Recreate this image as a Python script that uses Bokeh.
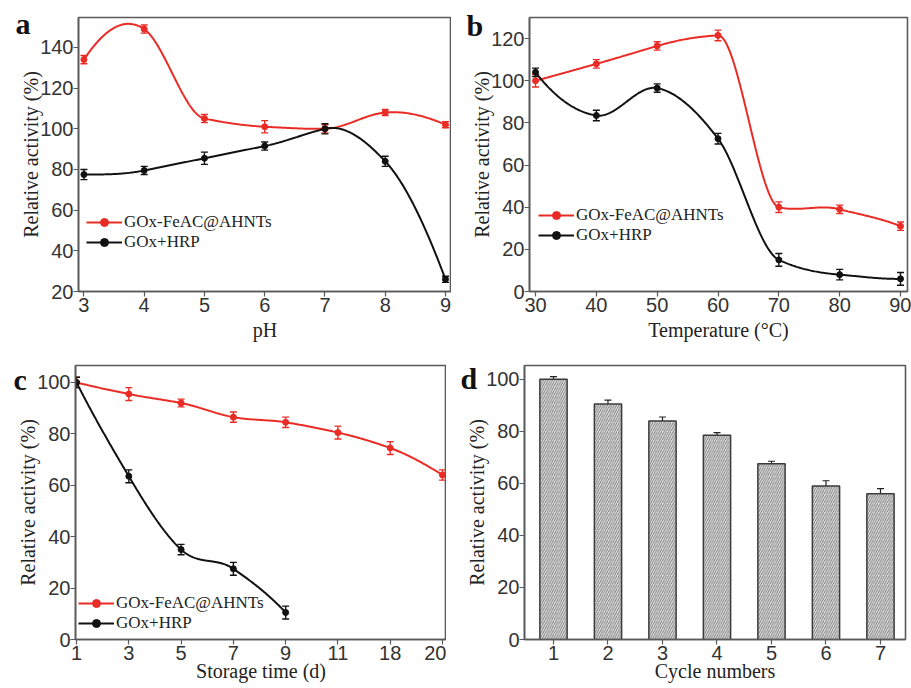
import numpy as np
from bokeh.plotting import figure
from bokeh.models import (ColumnDataSource, Whisker, TeeHead, Label, Legend,
                          LegendItem, FixedTicker, Range1d)
from bokeh.layouts import column, row
from bokeh.embed import file_html
from bokeh.resources import INLINE

# ---------------- data ----------------
ph = [3, 4, 5, 6, 7, 8, 9]
ph_fe = [134, 149, 105, 101, 100, 108, 102]
ph_fe_err = [2, 2, 2, 3, 2, 1.5, 1.5]
ph_hrp = [77.5, 79.5, 85.5, 91.5, 100, 84, 26]
ph_hrp_err = [2.5, 2, 3, 2, 2.5, 2.5, 1.5]

temp = [30, 40, 50, 60, 70, 80, 90]
temp_fe = [100, 108, 116.5, 121.5, 40, 39, 31]
temp_fe_err = [3, 2, 2, 2.5, 2.5, 2, 2]
temp_hrp = [104, 83.5, 96.5, 72.5, 15, 8, 6]
temp_hrp_err = [2, 2.5, 2, 2.5, 3, 2.5, 3]

store_labels = ["1", "3", "5", "7", "9", "11", "18", "20"]
store_fe = [100, 95.5, 92, 86.5, 84.5, 80.5, 74.5, 64]
store_fe_err = [2, 2.5, 1.5, 2, 2, 2.5, 2.5, 2]
store_hrp = [100, 63.5, 35, 27.5, 10.5]
store_hrp_err = [2, 2.5, 2, 2.5, 2.5]

cycles = [1, 2, 3, 4, 5, 6, 7]
cycle_act = [100, 90.5, 84, 78.5, 67.5, 59, 56]
cycle_err = [1, 1.5, 1.5, 1, 1, 2, 2]

RED = "#ea2c26"
BLK = "#111111"
LBL_FE = "GOx-FeAC@AHNTs"
LBL_HRP = "GOx+HRP"


def akima(x, y, n=300):
    x = np.asarray(x, float)
    y = np.asarray(y, float)
    N = len(x)
    d = np.diff(y) / np.diff(x)
    dm1 = 2 * d[0] - d[1]
    dm2 = 2 * dm1 - d[0]
    dn = 2 * d[-1] - d[-2]
    dn1 = 2 * dn - d[-1]
    M = np.concatenate([[dm2, dm1], d, [dn, dn1]])
    t = np.zeros(N)
    for i in range(N):
        w1 = abs(M[i + 3] - M[i + 2])
        w2 = abs(M[i + 1] - M[i])
        if w1 + w2 == 0:
            t[i] = 0.5 * (M[i + 1] + M[i + 2])
        else:
            t[i] = (w1 * M[i + 1] + w2 * M[i + 2]) / (w1 + w2)
    xs = np.linspace(x[0], x[-1], n)
    idx = np.clip(np.searchsorted(x, xs, side="right") - 1, 0, N - 2)
    h = x[idx + 1] - x[idx]
    s = (xs - x[idx]) / h
    h00 = 2 * s**3 - 3 * s**2 + 1
    h10 = s**3 - 2 * s**2 + s
    h01 = -2 * s**3 + 3 * s**2
    h11 = s**3 - s**2
    ys = h00 * y[idx] + h10 * h * t[idx] + h01 * y[idx + 1] + h11 * h * t[idx + 1]
    return xs, ys


def make_fig(w, h, xr, yr, bl, br, bt, bb, xlabel, xticks, yticks, ystand, xstand):
    p = figure(width=w, height=h, x_range=Range1d(*xr), y_range=Range1d(*yr),
               output_backend="svg", toolbar_location=None,
               min_border_left=bl, min_border_right=br,
               min_border_top=bt, min_border_bottom=bb)
    p.xgrid.visible = False
    p.ygrid.visible = False
    p.outline_line_color = "#5a5a5a"
    p.outline_line_width = 1.6
    p.background_fill_color = "white"
    p.border_fill_color = "white"
    for ax in (p.xaxis[0], p.yaxis[0]):
        ax.axis_line_color = "#5a5a5a"
        ax.axis_line_width = 1.6
        ax.major_tick_line_color = "#5a5a5a"
        ax.major_tick_line_width = 1.2
        ax.major_tick_out = 5
        ax.major_tick_in = 0
        ax.minor_tick_line_color = None
        ax.major_label_text_font = "Liberation Sans"
        ax.major_label_text_font_size = "20px"
        ax.major_label_text_color = "#333333"
        ax.axis_label_text_font = "Liberation Serif"
        ax.axis_label_text_font_size = "20px"
        ax.axis_label_text_font_style = "normal"
        ax.axis_label_text_color = "#222222"
    p.xaxis.axis_label = xlabel
    p.yaxis.axis_label = "Relative activity (%)"
    p.xaxis.ticker = FixedTicker(ticks=xticks)
    p.yaxis.ticker = FixedTicker(ticks=yticks)
    p.xaxis.major_label_standoff = 1
    p.yaxis.major_label_standoff = 0
    p.xaxis.axis_label_standoff = xstand
    p.yaxis.axis_label_standoff = ystand
    return p


def letter(p, txt, x, y, dx, dy):
    # placed in the left side panel so it is not clipped to the plot frame
    p.add_layout(Label(x=x, y=y, x_offset=dx, y_offset=dy, text=txt,
                       text_font="Liberation Serif", text_font_style="bold",
                       text_font_size="30px", text_color="#111111",
                       text_baseline="alphabetic"), "left")


def add_series(p, x, y, err, color):
    xs, ys = akima(x, y)
    ln = p.line(xs, ys, line_color=color, line_width=2)
    src = ColumnDataSource(dict(x=x, y=y, up=[a + b for a, b in zip(y, err)],
                                lo=[a - b for a, b in zip(y, err)]))
    p.add_layout(Whisker(base="x", upper="up", lower="lo", source=src,
                         line_color=color, line_width=1.4,
                         upper_head=TeeHead(size=7, line_color=color, line_width=1.4),
                         lower_head=TeeHead(size=7, line_color=color, line_width=1.4)))
    sc = p.scatter("x", "y", source=src, size=6, fill_color=color, line_color=color)
    return ln, sc


def add_legend(p, r_fe, r_hrp, loc):
    lg = Legend(items=[LegendItem(label=LBL_FE, renderers=list(r_fe)),
                       LegendItem(label=LBL_HRP, renderers=list(r_hrp))],
                location=loc, glyph_width=36, glyph_height=20, spacing=0,
                padding=0, margin=0, label_standoff=2,
                label_text_font="Liberation Serif", label_text_font_size="17px",
                label_text_color="#222222", background_fill_alpha=0,
                border_line_alpha=0, label_height=20)
    p.add_layout(lg, "center")


# ---------------- panel a ----------------
pa = make_fig(451, 350, (2.91, 9.1), (20, 154.7), 78, 0, 17, 58, "pH",
              ph, [20, 40, 60, 80, 100, 120, 140], -5, 4)
ra = add_series(pa, ph, ph_fe, ph_fe_err, RED)
rb = add_series(pa, ph, ph_hrp, ph_hrp_err, BLK)
add_legend(pa, ra, rb, (8, 39))
letter(pa, "a", 2.91, 154.7, -63, -6)

# ---------------- panel b ----------------
pb = make_fig(460, 350, (29.01, 91.15), (0, 130), 78, 4, 15, 59, "Temperature (\u00b0C)",
              temp, [0, 20, 40, 60, 80, 100, 120], -5, 4)
ra = add_series(pb, temp, temp_fe, temp_fe_err, RED)
rb = add_series(pb, temp, temp_hrp, temp_hrp_err, BLK)
add_legend(pb, ra, rb, (9, 46))
letter(pb, "b", 29.01, 130, -63, -8)

# ---------------- panel c ----------------
idx_fe = list(range(len(store_fe)))
idx_hrp = list(range(len(store_hrp)))
pc = make_fig(446, 338, (-0.02, 7.077), (0, 106.6), 75, 0, 15, 49, "Storage time (d)",
              list(range(len(store_labels))), [0, 20, 40, 60, 80, 100], -5, -3)
pc.xaxis.major_label_overrides = {i: s for i, s in enumerate(store_labels)}
ra = add_series(pc, idx_fe, store_fe, store_fe_err, RED)
rb = add_series(pc, idx_hrp, store_hrp, store_hrp_err, BLK)
add_legend(pc, ra, rb, (3, 6))
letter(pc, "c", -0.02, 106.6, -62, -14)

# ---------------- panel d ----------------
pd_ = make_fig(465, 338, (0.468, 7.459), (0, 105.3), 78, 6, 14, 48, "Cycle numbers",
               cycles, [0, 20, 40, 60, 80, 100], -5, -3)
dsrc = ColumnDataSource(dict(x=cycles, y=cycle_act,
                             up=[a + b for a, b in zip(cycle_act, cycle_err)],
                             lo=[a - b for a, b in zip(cycle_act, cycle_err)]))
pd_.vbar(x="x", top="y", bottom=0, width=0.5, source=dsrc, fill_color="#e4e4e4",
         line_color="#3a3a3a", line_width=1.5, hatch_pattern="/",
         hatch_color="#6a6a6a", hatch_scale=4.5, hatch_weight=0.9)
pd_.add_layout(Whisker(base="x", upper="up", lower="lo", source=dsrc,
                       line_color="#222222", line_width=1.2,
                       upper_head=TeeHead(size=7, line_color="#222222", line_width=1.2),
                       lower_head=TeeHead(size=7, line_color="#222222", line_width=1.2)))
letter(pd_, "d", 0.468, 105.3, -64, -13)

layout = column(row(pa, pb, spacing=0), row(pc, pd_, spacing=0), spacing=0)
open("out.html", "w").write(file_html(layout, INLINE))
